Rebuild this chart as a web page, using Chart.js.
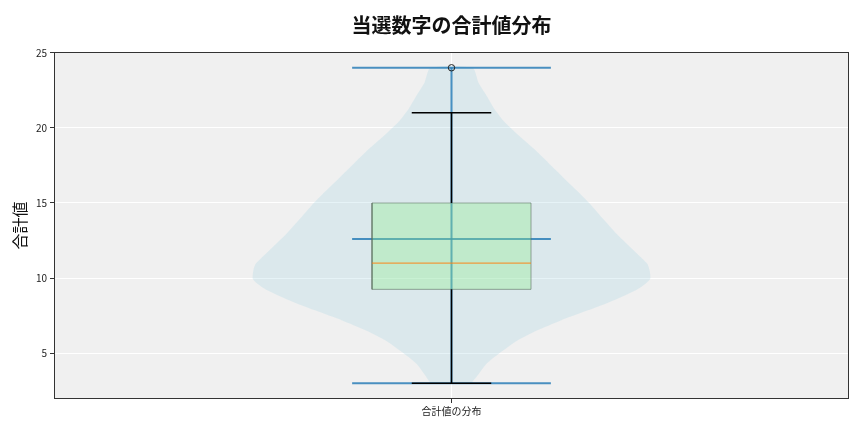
<!DOCTYPE html>
<html><head><meta charset="utf-8">
<script src="https://cdn.jsdelivr.net/npm/chart.js@4.4.1/dist/chart.umd.min.js"></script>
<style>html,body{margin:0;padding:0;background:#fff;} canvas{display:block;}</style>
</head><body>
<canvas id="c" width="864" height="432"></canvas>
<script>
// ---- data ----
const categories = ['合計値の分布'];
const violinValues  = [3.0, 3.6, 4.3, 5.0, 5.85, 6.5, 7.2, 8.3, 9.2, 9.6, 9.95, 10.5, 10.95, 11.8, 12.9, 14.0, 15.0, 15.8, 17.15, 18.4, 19.5, 20.4, 21.25, 22.15, 23.0, 24.0];
const violinDensity = [0.10, 0.136, 0.176, 0.241, 0.332, 0.427, 0.553, 0.779, 0.930, 0.975, 1.0, 0.997, 0.985, 0.920, 0.834, 0.759, 0.693, 0.633, 0.528, 0.432, 0.337, 0.266, 0.216, 0.176, 0.136, 0.106];
const dataMin = [3];
const dataMax = [24];
const dataMean = [12.6];
const whiskerLow = [3];
const q1 = [9.25];
const median = [11];
const q3 = [15];
const whiskerHigh = [21];
const outliers = [24];
const yTicks = [5, 10, 15, 20, 25];

// ---- styles ----
const POS = 1;            // category position
const VIOLIN_HALF = 0.25; // half width of violin at peak density
const EXT_HALF = 0.125;   // half width of min/max/mean lines
const BOX_HALF = 0.1;
const CAP_HALF = 0.05;
const BLUE = 'rgba(31,119,180,0.8)';
const FONT = "'Noto Sans CJK JP', 'Noto Sans', sans-serif";
Chart.defaults.font.family = FONT;

// violin outline: right side up, left side down
const violinShape = [];
violinValues.forEach((v, i) => violinShape.push({x: POS + VIOLIN_HALF * violinDensity[i], y: v}));
for (let i = violinValues.length - 1; i >= 0; i--) violinShape.push({x: POS - VIOLIN_HALF * violinDensity[i], y: violinValues[i]});
violinShape.push(violinShape[0]);

const hline = (y, h) => [{x: POS - h, y}, {x: POS + h, y}];
const vline = (a, b) => [{x: POS, y: a}, {x: POS, y: b}];
const boxShape = [
  {x: POS - BOX_HALF, y: q1[0]}, {x: POS + BOX_HALF, y: q1[0]},
  {x: POS + BOX_HALF, y: q3[0]}, {x: POS - BOX_HALF, y: q3[0]},
  {x: POS - BOX_HALF, y: q1[0]}
];

const L = (data, color, width, extra) => Object.assign({
  type: 'line', data, borderColor: color, borderWidth: width,
  pointRadius: 0, pointHoverRadius: 0, fill: false, tension: 0
}, extra || {});

const datasets = [
  L(violinShape, 'rgba(0,0,0,0)', 0, {fill: 'shape', backgroundColor: 'rgba(173,216,230,0.3)', tension: 0.2}),
  L(vline(dataMin[0], dataMax[0]), BLUE, 2),
  L(hline(dataMin[0], EXT_HALF), BLUE, 2),
  L(hline(dataMax[0], EXT_HALF), BLUE, 2),
  L(hline(dataMean[0], EXT_HALF), BLUE, 2),
  L(boxShape, 'rgba(90,110,95,0.6)', 1, {fill: 'shape', backgroundColor: 'rgba(144,238,144,0.35)'}),
  L(hline(median[0], BOX_HALF), 'rgba(255,127,14,0.75)', 1.2),
  L(vline(whiskerLow[0], q1[0]), '#000', 1.5),
  L(vline(q3[0], whiskerHigh[0]), '#000', 1.5),
  L(hline(whiskerLow[0], CAP_HALF), '#000', 1.5),
  L(hline(whiskerHigh[0], CAP_HALF), '#000', 1.5),
  {type: 'scatter', data: outliers.map(v => ({x: POS, y: v})), pointRadius: 3.2, pointBorderWidth: 1,
   pointBorderColor: '#222', pointBackgroundColor: 'rgba(0,0,0,0)', showLine: false}
];
datasets.forEach((d, i) => d.order = datasets.length - i);

const framePlugin = {
  id: 'frame',
  beforeDraw(chart) {
    const a = chart.chartArea, ctx = chart.ctx;
    ctx.save(); ctx.fillStyle = '#f0f0f0';
    ctx.fillRect(a.left, a.top, a.right - a.left, a.bottom - a.top); ctx.restore();
  },
  afterDatasetsDraw(chart) {
    const a = chart.chartArea, ctx = chart.ctx;
    ctx.save(); ctx.strokeStyle = '#333'; ctx.lineWidth = 1;
    ctx.strokeRect(a.left + 0.5, a.top + 0.5, a.right - a.left - 1, a.bottom - a.top - 1); ctx.restore();
  }
};

new Chart(document.getElementById('c'), {
  type: 'line',
  data: {datasets},
  plugins: [framePlugin],
  options: {
    responsive: false, animation: false, devicePixelRatio: 1,
    layout: {padding: {left: 0, right: 15, top: 0, bottom: 0}},
    plugins: {
      legend: {display: false}, tooltip: {enabled: false},
      title: {display: true, fullSize: false, text: '当選数字の合計値分布', color: '#111',
        font: {size: 20, weight: 'bold', family: FONT, lineHeight: 1.2}, padding: {top: 13, bottom: 15}}
    },
    scales: {
      x: {
        type: 'linear', min: 0.5, max: 1.5,
        afterBuildTicks: s => { s.ticks = [{value: POS}]; },
        afterFit: s => { s.height = 33; },
        ticks: {callback: () => categories[0], color: '#222', font: {size: 10}, padding: 2, maxRotation: 0},
        grid: {color: '#ffffff', lineWidth: 1, tickColor: '#333', tickLength: 4},
        border: {display: false}
      },
      y: {
        type: 'linear', min: 1.95, max: 25.05,
        afterBuildTicks: s => { s.ticks = yTicks.map(v => ({value: v})); },
        afterFit: s => { s.width = 54; },
        ticks: {color: '#222', font: {size: 10}, padding: 3},
        grid: {color: '#ffffff', lineWidth: 1, tickColor: '#333', tickLength: 4},
        border: {display: false},
        title: {display: true, text: '合計値', color: '#111', font: {size: 16, family: FONT, lineHeight: 1.2}, padding: {top: 10, bottom: 0}}
      }
    }
  }
});
</script>
</body></html>
